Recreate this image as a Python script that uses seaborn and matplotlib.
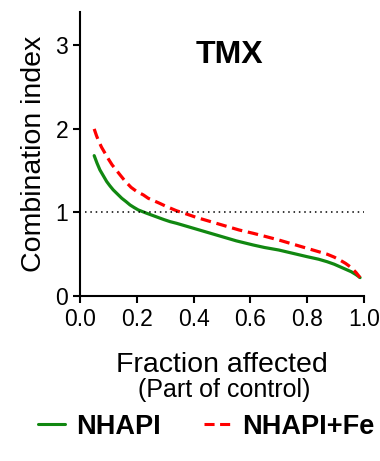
import numpy as np
import pandas as pd
import seaborn as sns
from matplotlib import pyplot as plt
from matplotlib.lines import Line2D

# values
fa_nhapi = [0.05, 0.06, 0.07, 0.082, 0.094, 0.105, 0.117, 0.132, 0.147, 0.162, 0.176, 0.19, 0.205, 0.22,
            0.235, 0.255, 0.275, 0.295, 0.317, 0.34, 0.36, 0.385, 0.41, 0.45, 0.50, 0.55, 0.61,
            0.65, 0.70, 0.75, 0.80, 0.84, 0.87, 0.895, 0.915, 0.935, 0.955, 0.972, 0.986]
ci_nhapi = [1.68, 1.59, 1.51, 1.44, 1.37, 1.32, 1.27, 1.22, 1.17, 1.13, 1.09, 1.06, 1.03, 1.01,
            0.99, 0.965, 0.94, 0.915, 0.89, 0.87, 0.85, 0.825, 0.80, 0.76, 0.71, 0.66, 0.61,
            0.58, 0.55, 0.51, 0.47, 0.44, 0.41, 0.38, 0.35, 0.32, 0.29, 0.255, 0.22]

fa_fe = [0.05, 0.058, 0.065, 0.076, 0.088, 0.1, 0.113, 0.127, 0.141, 0.16, 0.18, 0.2, 0.223, 0.24, 0.26,
         0.28, 0.305, 0.34, 0.376, 0.41, 0.45, 0.52, 0.56, 0.61, 0.65, 0.70, 0.75, 0.80, 0.84,
         0.87, 0.895, 0.915, 0.935, 0.955, 0.972, 0.986]
ci_fe = [2.0, 1.92, 1.86, 1.78, 1.71, 1.64, 1.57, 1.51, 1.45, 1.37, 1.30, 1.25, 1.21, 1.17, 1.14,
         1.11, 1.07, 1.02, 0.98, 0.94, 0.90, 0.83, 0.79, 0.75, 0.715, 0.67, 0.62, 0.57, 0.53,
         0.50, 0.465, 0.43, 0.39, 0.34, 0.28, 0.22]

series_names = ["NHAPI", "NHAPI+Fe"]
x_ticks = [0.0, 0.2, 0.4, 0.6, 0.8, 1.0]
y_ticks = [0, 1, 2, 3]

df = pd.concat([
    pd.DataFrame({"fa": fa_nhapi, "ci": ci_nhapi, "series": series_names[0]}),
    pd.DataFrame({"fa": fa_fe, "ci": ci_fe, "series": series_names[1]}),
])

sns.set_style("ticks")
plt.rcParams["font.family"] = ["Liberation Sans", "DejaVu Sans"]
plt.rcParams["text.color"] = "black"
plt.rcParams["axes.labelcolor"] = "black"

fig = plt.figure(figsize=(3.8, 4.61), dpi=100)
ax = fig.add_axes([0.2105, 0.358, 0.7475, 0.616])

colors = {"NHAPI": "#118811", "NHAPI+Fe": "#ff0000"}
dash = (3.3, 1.8)
sns.lineplot(data=df, x="fa", y="ci", hue="series", style="series",
             palette=colors, dashes={"NHAPI": "", "NHAPI+Fe": dash},
             linewidth=2.3, legend=False, ax=ax)

ax.plot([0.018, 1.0], [1, 1], color="black", linestyle=(0, (1, 2.5)), linewidth=1.1)

ax.set_xlim(0, 1.0)
ax.set_ylim(0, 3.4)
ax.set_xticks(x_ticks)
ax.set_xticklabels([f"{t:.1f}" for t in x_ticks])
ax.set_yticks(y_ticks)
ax.tick_params(labelsize=16.5, width=1.5, length=5, color="black", labelcolor="black")
for side in ["left", "bottom"]:
    ax.spines[side].set_linewidth(1.5)
    ax.spines[side].set_color("black")
sns.despine(ax=ax)

ax.set_ylabel("Combination index", fontsize=20.5, labelpad=6)
ax.set_xlabel("Fraction affected", fontsize=20.5, labelpad=15)
fig.text(0.59, 0.155, "(Part of control)", fontsize=18, ha="center", va="center")

ax.text(0.525, 0.85, "TMX", transform=ax.transAxes, fontsize=23,
        fontweight="bold", ha="center", va="center")

handles = [
    Line2D([], [], color=colors["NHAPI"], linewidth=2.2),
    Line2D([], [], color=colors["NHAPI+Fe"], linewidth=2.2, linestyle=(0, dash)),
]
leg = fig.legend(handles, series_names, loc="center", bbox_to_anchor=(0.542, 0.074),
                 ncol=2, frameon=False, handlelength=1.0, handletextpad=0.4,
                 columnspacing=1.6, prop={"size": 19.5, "weight": "bold"})

fig.savefig("out.png", dpi=100)
